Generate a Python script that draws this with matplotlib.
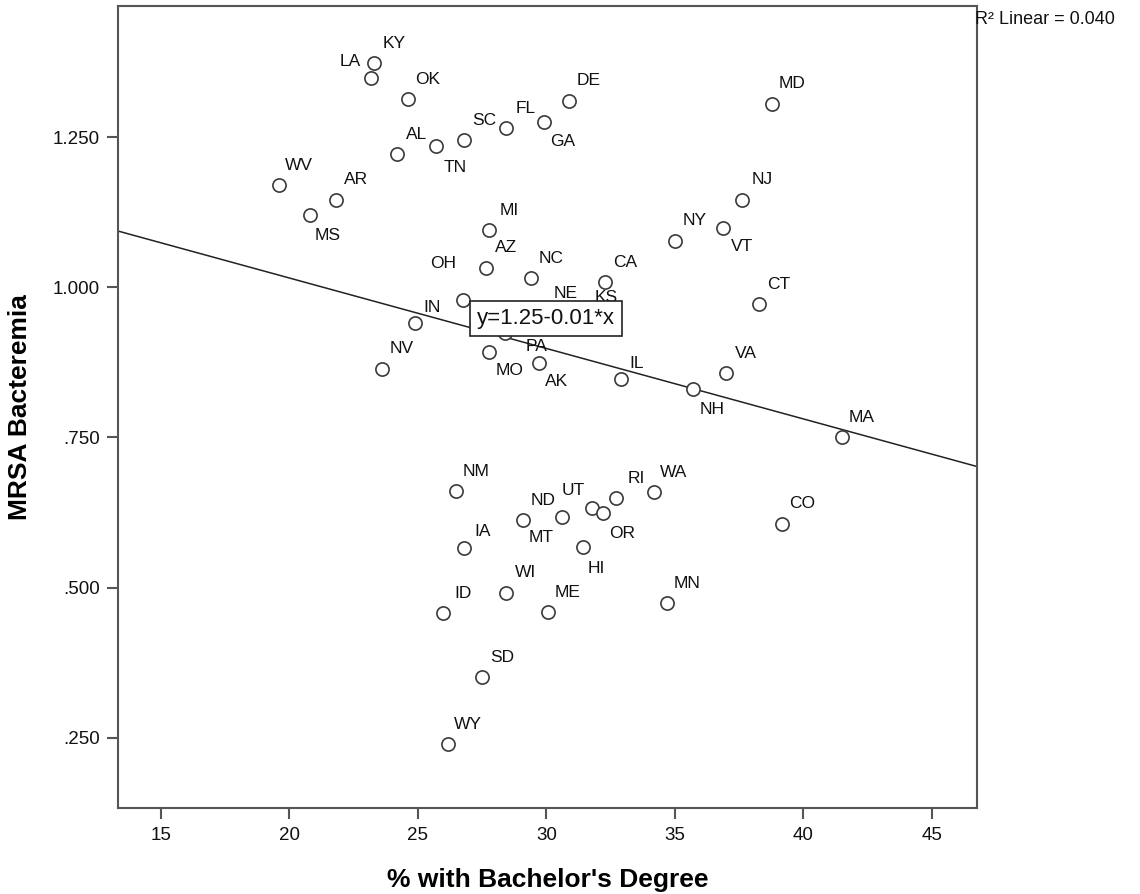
import numpy as np
import matplotlib
matplotlib.use("Agg")
import matplotlib.pyplot as plt

plt.rcParams['font.family'] = ['Liberation Sans', 'DejaVu Sans']

# values
states = ['KY', 'LA', 'OK', 'AL', 'TN', 'SC', 'FL', 'GA', 'DE', 'MD',
          'WV', 'AR', 'MS', 'MI', 'AZ', 'NC', 'CA', 'OH', 'NE', 'KS',
          'IN', 'TX', 'PA', 'NV', 'MO', 'AK', 'IL', 'NH', 'VA', 'NY',
          'VT', 'NJ', 'CT', 'MA', 'NM', 'IA', 'MT', 'ND', 'UT', 'OR',
          'RI', 'WA', 'HI', 'WI', 'ME', 'ID', 'MN', 'CO', 'SD', 'WY']
pct_bachelor = [23.29, 23.17, 24.61, 24.18, 25.70, 26.79, 28.42, 29.90, 30.88, 38.77,
                19.59, 21.81, 20.80, 27.76, 27.65, 29.40, 32.28, 26.75, 29.98, 31.54,
                24.88, 28.39, 28.89, 23.60, 27.76, 29.71, 32.90, 35.70, 36.98, 34.99,
                36.87, 37.61, 38.27, 41.50, 26.48, 26.79, 29.09, 30.60, 31.77, 32.20,
                32.70, 34.18, 31.42, 28.42, 30.06, 25.97, 34.69, 39.16, 27.49, 26.17]
mrsa = [1.373, 1.349, 1.313, 1.221, 1.235, 1.245, 1.265, 1.275, 1.310, 1.305,
        1.170, 1.146, 1.120, 1.095, 1.032, 1.015, 1.008, 0.978, 0.957, 0.950,
        0.940, 0.923, 0.937, 0.864, 0.892, 0.874, 0.848, 0.830, 0.857, 1.077,
        1.098, 1.146, 0.972, 0.750, 0.660, 0.566, 0.612, 0.617, 0.632, 0.624,
        0.649, 0.659, 0.567, 0.491, 0.459, 0.457, 0.474, 0.606, 0.351, 0.239]

x_ticks = [15, 20, 25, 30, 35, 40, 45]
y_ticks = [0.25, 0.5, 0.75, 1.0, 1.25]
y_tick_labels = ['.250', '.500', '.750', '1.000', '1.250']
r2_text = '0.040'
fit_text = 'y=1.25-0.01*x'

# label offsets in pixels (most labels sit up and to the right)
default_offset = (20, 20)
label_offset = {
    'LA': (-21, 16), 'TN': (19, -21), 'GA': (19, -19), 'MS': (18, -20),
    'OH': (-20, 37), 'PA': (19, -21), 'MO': (21, -18), 'AK': (18, -19),
    'NH': (19, -20), 'VT': (19, -18), 'MT': (18, -17), 'ND': (-19, 17),
    'UT': (-19, 18), 'OR': (19, -20), 'HI': (13, -21), 'IL': (16, 15),
    'IN': (17, 16), 'IA': (19, 16), 'NE': (20, 20), 'KS': (20, 20),
}
hidden_labels = ['TX']  # label sits under the equation box in the original

fig = plt.figure(figsize=(11.4, 8.94), dpi=100)
ax = fig.add_axes([0.1035, 0.0962, 0.7535, 0.8970])

ax.plot(pct_bachelor, mrsa, 'o', ms=9.5, mfc='white', mec='#3a3a3a', mew=1.2,
        ls='none', zorder=3)

for st, xv, yv in zip(states, pct_bachelor, mrsa):
    if st in hidden_labels:
        continue
    dx, dy = label_offset.get(st, default_offset)
    ax.annotate(st, (xv, yv), xytext=(dx, dy), textcoords='offset pixels',
                ha='center', va='center', fontsize=12.5, color='#111111', zorder=4)

xlim = (13.33, 46.75)
ylim = (0.133, 1.468)

slope, intercept = np.polyfit(pct_bachelor, mrsa, 1)
xs = np.array(xlim)
ax.plot(xs, intercept + slope * xs, color='#222222', lw=1.1, zorder=2)

ax.text(29.98, 0.948, fit_text, ha='center', va='center', fontsize=16,
        color='#111111', zorder=6,
        bbox=dict(boxstyle='square,pad=0.33', fc='white', ec='#222222', lw=1.2))

ax.set_xlim(xlim)
ax.set_ylim(ylim)
ax.set_xticks(x_ticks)
ax.set_yticks(y_ticks)
ax.set_yticklabels(y_tick_labels)

for sp in ax.spines.values():
    sp.set_color('#555555')
    sp.set_linewidth(1.5)

ax.tick_params(axis='both', direction='out', length=8, width=1.5, color='#555555',
               labelsize=13.5, labelcolor='#111111')
ax.tick_params(axis='x', pad=6)
ax.tick_params(axis='y', pad=5)

ax.set_xlabel("% with Bachelor's Degree", fontsize=19, fontweight='bold', labelpad=17)
ax.set_ylabel('MRSA Bacteremia', fontsize=19, fontweight='bold', labelpad=15)

fig.text(0.855, 0.978, 'R\u00b2 Linear = ' + r2_text, ha='left', va='center',
         fontsize=13, color='#111111')

fig.savefig('out.png', dpi=100)
